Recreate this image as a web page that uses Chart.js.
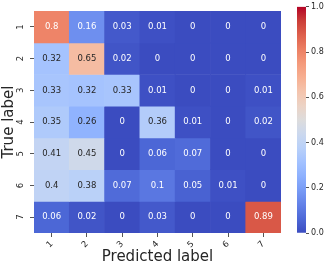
<!DOCTYPE html>
<html lang="en">
<head>
    <meta charset="utf-8">
    <title>Confusion matrix</title>
    <script src="https://cdn.jsdelivr.net/npm/chart.js"></script>
    <style>
        body { margin: 0; background: #fff; }
        #wrap { position: relative; width: 328px; height: 266px; }
        #wrap canvas { position: absolute; top: 0; }
    </style>
</head>
<body>
    <div id="wrap">
        <canvas id="matrix" width="328" height="266" style="left:0"></canvas>
        <canvas id="cbar" width="38" height="266" style="left:290px"></canvas>
    </div>

    <script>
        const predictedLabels = ['1', '2', '3', '4', '5', '6', '7'];
        const trueLabels = ['1', '2', '3', '4', '5', '6', '7'];

        // rows = true label, columns = predicted label
        const row1 = [0.8, 0.16, 0.03, 0.01, 0, 0, 0];
        const row2 = [0.32, 0.65, 0.02, 0, 0, 0, 0];
        const row3 = [0.33, 0.32, 0.33, 0.01, 0, 0, 0.01];
        const row4 = [0.35, 0.26, 0, 0.36, 0.01, 0, 0.02];
        const row5 = [0.41, 0.45, 0, 0.06, 0.07, 0, 0];
        const row6 = [0.4, 0.38, 0.07, 0.1, 0.05, 0.01, 0];
        const row7 = [0.06, 0.02, 0, 0.03, 0, 0, 0.89];
        const matrix = [row1, row2, row3, row4, row5, row6, row7];

        const colorbarTicks = [0, 0.2, 0.4, 0.6, 0.8, 1.0];

        // coolwarm colour map
        const cw = [
            [59, 76, 192], [77, 104, 215], [98, 129, 232], [119, 154, 245],
            [141, 176, 254], [162, 193, 255], [184, 208, 249], [203, 216, 238],
            [221, 220, 220], [236, 211, 197], [244, 196, 173], [247, 175, 145],
            [244, 154, 123], [236, 127, 99], [222, 96, 76], [203, 62, 56], [180, 4, 38]
        ];

        function coolwarm(v) {
            const t = Math.max(0, Math.min(1, v)) * (cw.length - 1);
            const i = Math.min(Math.floor(t), cw.length - 2);
            const f = t - i;
            return cw[i].map((c, k) => Math.round(c + (cw[i + 1][k] - c) * f));
        }

        function rgb(c) {
            return 'rgb(' + c.join(',') + ')';
        }

        // same rule seaborn uses to pick annotation colour
        function luminance(c) {
            const l = c.map(x => {
                x = x / 255;
                return x <= 0.03928 ? x / 12.92 : Math.pow((x + 0.055) / 1.055, 2.4);
            });
            return 0.2126 * l[0] + 0.7152 * l[1] + 0.0722 * l[2];
        }

        const font = 'DejaVu Sans';
        const textColor = '#262626';

        const annotate = {
            id: 'annotate',
            afterDatasetsDraw(chart) {
                const ctx = chart.ctx;
                ctx.save();
                ctx.font = '8.5px "' + font + '"';
                ctx.textAlign = 'center';
                ctx.textBaseline = 'middle';
                matrix.forEach((row, r) => {
                    const meta = chart.getDatasetMeta(r);
                    meta.data.forEach((bar, c) => {
                        const v = row[c];
                        ctx.fillStyle = luminance(coolwarm(v)) > 0.408 ? textColor : '#ffffff';
                        ctx.fillText(String(v), bar.x, (bar.y + bar.base) / 2);
                    });
                });
                ctx.restore();
            }
        };

        new Chart(document.getElementById('matrix'), {
            type: 'bar',
            data: {
                labels: predictedLabels,
                datasets: matrix.map((row, r) => ({
                    label: trueLabels[r],
                    data: row.map(() => 1),
                    backgroundColor: row.map(v => rgb(coolwarm(v))),
                    borderWidth: 0,
                    barPercentage: 1,
                    categoryPercentage: 1
                }))
            },
            options: {
                responsive: false,
                animation: false,
                layout: { padding: { top: 3, right: 47, left: 0, bottom: 0 } },
                plugins: { legend: { display: false }, tooltip: { enabled: false } },
                scales: {
                    x: {
                        stacked: true,
                        grid: { offset: false, drawOnChartArea: false, tickLength: 4, color: '#555' },
                        border: { display: false },
                        ticks: { minRotation: 45, maxRotation: 45, padding: 2, color: textColor, font: { family: font, size: 8.5 } },
                        title: { display: true, text: 'Predicted label', color: textColor, padding: 0, font: { family: font, size: 15 } },
                        afterFit: s => { s.height = 33; }
                    },
                    y: {
                        type: 'linear',
                        stacked: true,
                        reverse: true,
                        min: 0,
                        max: trueLabels.length,
                        afterBuildTicks: s => { s.ticks = trueLabels.map((_, i) => ({ value: i + 0.5 })); },
                        grid: { drawOnChartArea: false, tickLength: 4, color: '#555' },
                        border: { display: false },
                        ticks: {
                            minRotation: 90, maxRotation: 90, crossAlign: 'center', padding: 6,
                            color: textColor, font: { family: font, size: 8.5 },
                            callback: v => trueLabels[Math.floor(v)]
                        },
                        title: { display: true, text: 'True label', color: textColor, padding: 0, font: { family: font, size: 15 } },
                        afterFit: s => { s.width = 34; }
                    }
                }
            },
            plugins: [annotate]
        });

        // colour bar
        new Chart(document.getElementById('cbar'), {
            type: 'bar',
            data: {
                labels: [''],
                datasets: [{
                    data: [1],
                    borderWidth: 0,
                    barPercentage: 1,
                    categoryPercentage: 1,
                    backgroundColor: ctx => {
                        const a = ctx.chart.chartArea;
                        if (!a) return rgb(cw[0]);
                        const g = ctx.chart.ctx.createLinearGradient(0, a.bottom, 0, a.top);
                        cw.forEach((c, i) => g.addColorStop(i / (cw.length - 1), rgb(c)));
                        return g;
                    }
                }]
            },
            options: {
                responsive: false,
                animation: false,
                layout: { padding: { top: 3, left: 7, right: 0, bottom: 33 } },
                plugins: { legend: { display: false }, tooltip: { enabled: false } },
                scales: {
                    x: { display: false },
                    y: {
                        position: 'right',
                        min: 0,
                        max: 1,
                        afterBuildTicks: s => { s.ticks = colorbarTicks.map(v => ({ value: v })); },
                        grid: { drawOnChartArea: false, tickLength: 3, color: '#555' },
                        border: { display: false },
                        ticks: { padding: 2, color: textColor, font: { family: font, size: 8 }, callback: v => v.toFixed(1) },
                        afterFit: s => { s.width = 22; }
                    }
                }
            }
        });
    </script>
</body>
</html>
